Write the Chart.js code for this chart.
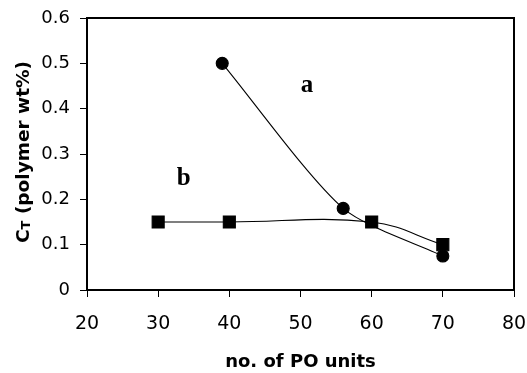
<!DOCTYPE html>
<html>
<head>
<meta charset="utf-8">
<script src="https://cdn.jsdelivr.net/npm/chart.js@4.4.1/dist/chart.umd.min.js"></script>
<style>
  html, body { margin: 0; padding: 0; background: #fff; }
  #wrap { width: 527px; height: 373px; }
</style>
</head>
<body>
<div id="wrap"><canvas id="grafico"></canvas></div>
<script>
// dados
const unidadesA = [39, 56, 70];
const valoresA = [0.5, 0.18, 0.075];
const unidadesB = [30, 40, 60, 70];
const valoresB = [0.15, 0.15, 0.15, 0.1];
const ticksX = [20, 30, 40, 50, 60, 70, 80];
const ticksY = [0, 0.1, 0.2, 0.3, 0.4, 0.5, 0.6];

const nomesSeries = ["a", "b"];
// onde ficam as letras a e b (coordenadas do grafico)
const letraX = [50.9, 33.6];
const letraY = [0.45, 0.245];

function pontos(xs, ys) {
  let lista = [];
  for (let i = 0; i < xs.length; i++) {
    lista.push({ x: xs[i], y: ys[i] });
  }
  return lista;
}

// borda de cima e da direita + titulos + letras
const extras = {
  id: "extras",
  afterDatasetsDraw(chart) {
    const ctx = chart.ctx;
    const area = chart.chartArea;
    const sx = chart.scales.x;
    const sy = chart.scales.y;

    ctx.save();
    ctx.strokeStyle = "#000";
    ctx.lineWidth = 2;
    ctx.beginPath();
    ctx.moveTo(area.left, area.top);
    ctx.lineTo(area.right, area.top);
    ctx.lineTo(area.right, area.bottom);
    ctx.stroke();

    ctx.fillStyle = "#000";
    ctx.textAlign = "center";
    ctx.textBaseline = "middle";
    ctx.font = "bold 25px 'Liberation Serif'";
    for (let i = 0; i < nomesSeries.length; i++) {
      ctx.fillText(nomesSeries[i], sx.getPixelForValue(letraX[i]), sy.getPixelForValue(letraY[i]));
    }

    // titulo x
    ctx.font = "bold 18px 'DejaVu Sans'";
    ctx.fillText("no. of PO units", (area.left + area.right) / 2, 362);

    // titulo y com subscrito
    ctx.translate(24, 152);
    ctx.rotate(-Math.PI / 2);
    const fonteG = "bold 18.5px 'DejaVu Sans'";
    const fonteP = "bold 13px 'DejaVu Sans'";
    const resto = " (polymer wt%)";
    ctx.font = fonteG;
    const wC = ctx.measureText("C").width;
    const wR = ctx.measureText(resto).width;
    ctx.font = fonteP;
    const wT = ctx.measureText("T").width;
    let x0 = -(wC + wT + wR) / 2;
    ctx.textAlign = "left";
    ctx.font = fonteG;
    ctx.fillText("C", x0, 0);
    ctx.font = fonteP;
    ctx.fillText("T", x0 + wC, 3);
    ctx.font = fonteG;
    ctx.fillText(resto, x0 + wC + wT, 0);
    ctx.restore();
  }
};

const config = {
  type: "scatter",
  data: {
    datasets: [
      {
        label: nomesSeries[0],
        data: pontos(unidadesA, valoresA),
        showLine: true,
        borderColor: "#000",
        borderWidth: 1.1,
        backgroundColor: "#000",
        pointStyle: "circle",
        pointRadius: 6,
        tension: 0.25,
      },
      {
        label: nomesSeries[1],
        data: pontos(unidadesB, valoresB),
        showLine: true,
        borderColor: "#000",
        borderWidth: 1.1,
        backgroundColor: "#000",
        pointStyle: "rect",
        pointRadius: 8.5,
        tension: 0.4,
      },
    ],
  },
  options: {
    responsive: true,
    maintainAspectRatio: false,
    animation: false,
    layout: { padding: { left: 0, top: 18, right: 13, bottom: 0 } },
    plugins: {
      legend: { display: false },
      tooltip: { enabled: false },
    },
    scales: {
      x: {
        type: "linear",
        min: ticksX[0],
        max: ticksX[ticksX.length - 1],
        afterBuildTicks: (s) => { s.ticks = ticksX.map((v) => ({ value: v })); },
        afterFit: (s) => {
          s.height = 83;
          s.paddingLeft = 0;
          s.paddingRight = 0;
        },
        ticks: {
          color: "#000",
          font: { family: "DejaVu Sans", size: 19 },
          padding: 16,
          maxRotation: 0,
        },
        grid: { drawOnChartArea: false, tickLength: 7, color: "#000", lineWidth: 1 },
        border: { color: "#000", width: 2 },
      },
      y: {
        type: "linear",
        min: ticksY[0],
        max: ticksY[ticksY.length - 1],
        afterBuildTicks: (s) => { s.ticks = ticksY.map((v) => ({ value: v })); },
        afterFit: (s) => {
          s.width = 87;
          s.paddingTop = 0;
          s.paddingBottom = 0;
        },
        ticks: {
          color: "#000",
          font: { family: "DejaVu Sans", size: 18 },
          padding: 10,
          callback: (v) => String(Math.round(v * 10) / 10),
        },
        grid: { drawOnChartArea: false, tickLength: 7, color: "#000", lineWidth: 1 },
        border: { color: "#000", width: 2 },
      },
    },
  },
  plugins: [extras],
};

let myChart = new Chart(document.getElementById("grafico"), config);
</script>
</body>
</html>
